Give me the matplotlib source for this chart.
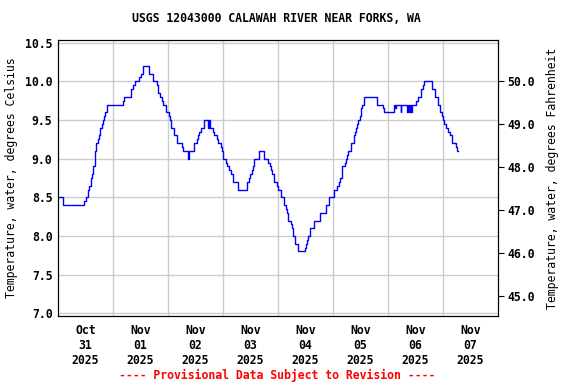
import pandas as pd
import matplotlib
matplotlib.use('Agg')
import matplotlib.pyplot as plt

# hours after 2025-10-31 00:00 where the reading changes, and the new value (deg C)
hours = [0, 2.3, 11.5, 12.2, 12.9, 13.7, 14.3, 14.7, 15.1, 16.0, 16.3, 16.7, 17.5, 17.9,
         18.5, 19.1, 19.6, 20.2, 20.6, 21.4, 28.2, 28.7, 31.9, 32.9, 33.7, 35.5, 36.2,
         37.0, 39.9, 41.6, 43.1, 43.5, 43.8, 44.5, 45.4, 46.0, 47.0, 48.6, 49.0, 49.5,
         50.8, 51.8, 54.1, 54.7, 56.9, 57.3, 59.5, 60.7, 61.1, 61.7, 62.3, 63.9, 65.5,
         65.8, 66.2, 67.5, 68.2, 69.3, 69.8, 71.0, 71.6, 72.2, 73.3, 73.9, 74.8, 75.4,
         76.5, 78.7, 82.6, 83.2, 83.9, 84.5, 85.1, 85.7, 87.6, 90.0, 91.8, 92.4, 92.8,
         93.5, 94.1, 95.4, 95.9, 97.5, 98.6, 99.5, 100.1, 100.5, 101.5, 102.0, 102.4,
         102.7, 103.6, 104.6, 107.7, 108.1, 108.8, 109.2, 110.1, 111.6, 114.5, 117.0,
         118.4, 120.4, 121.6, 122.5, 123.2, 123.8, 124.1, 125.1, 125.5, 126.3, 126.7,
         127.7, 128.0, 129.2, 129.8, 130.2, 130.6, 131.1, 131.7, 132.1, 132.4, 132.8,
         133.7, 139.3, 141.9, 142.4, 146.8, 147.1, 147.5, 149.6, 149.8, 152.1, 152.6,
         153.0, 153.5, 153.9, 154.4, 156.2, 157.0, 158.2, 159.2, 159.8, 163.3, 164.7,
         165.8, 166.8, 167.4, 167.9, 168.5, 169.3, 170.0, 170.9, 172.0, 173.7, 174.2,
         174.5]
temps = [8.5, 8.4, 8.45, 8.5, 8.6, 8.65, 8.75, 8.8, 8.9, 9.0, 9.1, 9.2, 9.25, 9.3,
         9.4, 9.45, 9.5, 9.55, 9.6, 9.7, 9.75, 9.8, 9.9, 9.95, 10.0, 10.05, 10.1,
         10.2, 10.1, 10.0, 9.95, 9.9, 9.85, 9.8, 9.75, 9.7, 9.6, 9.55, 9.5, 9.4,
         9.3, 9.2, 9.15, 9.1, 9.0, 9.1, 9.2, 9.25, 9.3, 9.35, 9.4, 9.5, 9.4,
         9.5, 9.4, 9.35, 9.3, 9.25, 9.2, 9.15, 9.1, 9.0, 8.95, 8.9, 8.85, 8.8,
         8.7, 8.6, 8.7, 8.75, 8.8, 8.85, 8.9, 9.0, 9.1, 9.0, 8.95, 8.9, 8.85,
         8.8, 8.7, 8.65, 8.6, 8.5, 8.4, 8.35, 8.3, 8.2, 8.15, 8.1, 8.05,
         8.0, 7.9, 7.8, 7.85, 7.9, 7.95, 8.0, 8.1, 8.2, 8.3, 8.4,
         8.5, 8.6, 8.65, 8.7, 8.75, 8.8, 8.9, 8.95, 9.0, 9.05, 9.1,
         9.15, 9.2, 9.3, 9.35, 9.4, 9.45, 9.5, 9.55, 9.6, 9.65, 9.7,
         9.8, 9.7, 9.65, 9.6, 9.7, 9.65, 9.7, 9.6, 9.7, 9.6, 9.7,
         9.6, 9.7, 9.6, 9.7, 9.75, 9.8, 9.9, 9.95, 10.0, 9.9, 9.8,
         9.7, 9.6, 9.55, 9.5, 9.45, 9.4, 9.35, 9.3, 9.2, 9.15, 9.1,
         9.1]

day_labels = ['Oct\n31\n2025', 'Nov\n01\n2025', 'Nov\n02\n2025', 'Nov\n03\n2025',
              'Nov\n04\n2025', 'Nov\n05\n2025', 'Nov\n06\n2025', 'Nov\n07\n2025']

start = pd.Timestamp('2025-10-31')
times = start + pd.to_timedelta(hours, unit='h')

plt.rcParams['font.family'] = 'DejaVu Sans Mono'
plt.rcParams['font.weight'] = 'bold'
fs = 8.3

fig = plt.figure(figsize=(5.76, 3.84), dpi=100)
ax = fig.add_axes([58/576, 1 - 316/384, 440/576, 276/384])

ax.step(times, temps, where='post', color='#0000ff', lw=1)

ax.set_xlim(start, start + pd.Timedelta(days=8))
ax.set_ylim(6.965, 10.535)
ax.set_yticks([7.0, 7.5, 8.0, 8.5, 9.0, 9.5, 10.0, 10.5])
ax.yaxis.set_major_formatter(plt.FormatStrFormatter('%.1f'))

# gridlines at midnight, labels at noon
ax.set_xticks([start + pd.Timedelta(days=d) for d in range(1, 8)])
ax.set_xticklabels([])
ax.set_xticks([start + pd.Timedelta(hours=12 + 24*d) for d in range(8)], minor=True)
ax.set_xticklabels(day_labels, minor=True)
ax.tick_params(axis='x', which='both', length=0, labelsize=fs, pad=6)
ax.tick_params(axis='y', length=0, labelsize=fs, pad=4)
ax.grid(True, which='major', color='#cccccc', lw=1)
ax.set_axisbelow(True)
for s in ax.spines.values():
    s.set_color('black')

ax.set_ylabel('Temperature, water, degrees Celsius', fontsize=fs, labelpad=5)

ax2 = ax.twinx()
lo, hi = ax.get_ylim()
ax2.set_ylim(lo*1.8 + 32, hi*1.8 + 32)
ax2.set_yticks([45, 46, 47, 48, 49, 50])
ax2.yaxis.set_major_formatter(plt.FormatStrFormatter('%.1f'))
ax2.tick_params(axis='y', length=4, labelsize=fs, pad=3)
ax2.set_ylabel('Temperature, water, degrees Fahrenheit', fontsize=fs, labelpad=8)

fig.text(276/576, 1 - 19/384, 'USGS 12043000 CALAWAH RIVER NEAR FORKS, WA',
         ha='center', va='center', fontsize=fs)
fig.text(277/576, 1 - 375/384, '---- Provisional Data Subject to Revision ----',
         ha='center', va='center', fontsize=fs, color='red')

fig.savefig('out.png', dpi=100)
